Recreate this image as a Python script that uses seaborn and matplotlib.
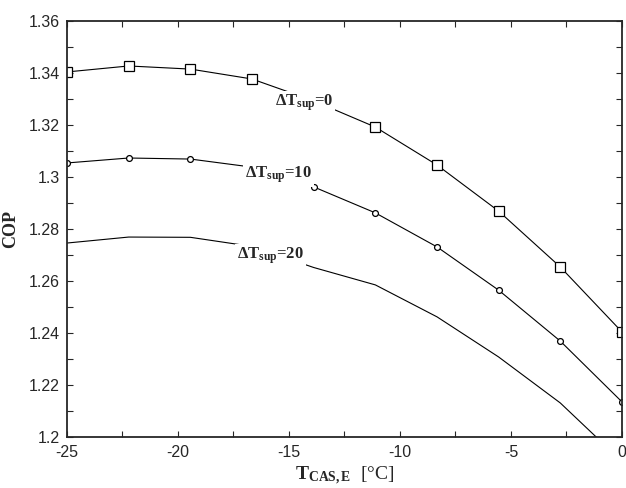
import numpy as np
import pandas as pd
import matplotlib
matplotlib.use("Agg")
import matplotlib.pyplot as plt
import seaborn as sns
from matplotlib.ticker import MultipleLocator

# evaporator temperature of the cascade cycle [°C]
t_cas_e = [-25.0, -22.22, -19.44, -16.67, -13.89, -11.11, -8.33, -5.56, -2.78, 0.0]

cop_sup0 = [1.3404, 1.3427, 1.3415, 1.3377, 1.3293, 1.3192, 1.3046, 1.2869, 1.2654, 1.2404]
cop_sup10 = [1.3054, 1.3073, 1.3069, 1.3038, 1.2962, 1.2862, 1.2731, 1.2565, 1.2369, 1.2135]
cop_sup20 = [1.2746, 1.2769, 1.2768, 1.2733, 1.2652, 1.2585, 1.2462, 1.2308, 1.2131, 1.1906]

df = pd.DataFrame({
    "T": t_cas_e * 3,
    "COP": cop_sup0 + cop_sup10 + cop_sup20,
    "sup": ["0"] * 10 + ["10"] * 10 + ["20"] * 10,
})

sns.set_style("ticks")
plt.rcParams["font.family"] = ["Liberation Sans", "DejaVu Sans"]
plt.rcParams["axes.unicode_minus"] = False
plt.rcParams["mathtext.fontset"] = "custom"
plt.rcParams["mathtext.rm"] = "Liberation Serif"
plt.rcParams["mathtext.it"] = "Liberation Serif:italic"
plt.rcParams["mathtext.bf"] = "Liberation Serif:bold"

fig = plt.figure(figsize=(6.26, 4.88), dpi=100)
ax = fig.add_axes([0.107, 0.1045, 0.8866, 0.8525])

styles = {"0": dict(marker="s", markersize=6.5), "10": dict(marker="o", markersize=4.2), "20": dict(marker=None)}
for key, st in styles.items():
    sub = df[df["sup"] == key]
    sns.lineplot(data=sub, x="T", y="COP", ax=ax, color="black", linewidth=0.8,
                 markerfacecolor="white", markeredgecolor="black", markeredgewidth=0.9,
                 zorder=2, **st)

ax.set_xlim(-25, 0)
ax.set_ylim(1.2, 1.36)
ax.xaxis.set_major_locator(MultipleLocator(5))
ax.xaxis.set_minor_locator(MultipleLocator(2.5))
ax.yaxis.set_minor_locator(MultipleLocator(0.01))
ax.set_yticks(np.arange(1.2, 1.3601, 0.02))
ax.set_yticklabels(["1.2", "1.22", "1.24", "1.26", "1.28", "1.3", "1.32", "1.34", "1.36"])
ax.tick_params(which="both", direction="in", top=True, right=True, length=4, width=0.8,
               labelsize=11.5, pad=5)
ax.tick_params(axis="x", which="both", labeltop=False, pad=6)
ax.tick_params(axis="y", which="both", labelright=False)
for sp in ax.spines.values():
    sp.set_linewidth(1.3)
    sp.set_zorder(5)

ax.set_xlabel(r"$\mathbf{T_{CAS,E}}$  [°C]", fontsize=14, family="Liberation Serif", labelpad=3)
ax.set_ylabel("COP", fontsize=13, fontweight="bold", family="Liberation Serif", labelpad=7)

box = dict(facecolor="white", edgecolor="none", pad=1.5)
label_kw = dict(fontsize=12, fontweight="bold", family="Liberation Serif", ha="left",
                va="baseline", bbox=box, zorder=3)
ax.text(-15.65, 1.3273, r"$\mathbf{\Delta T_{sup}}$=0", **label_kw)
ax.text(-16.98, 1.2996, r"$\mathbf{\Delta T_{sup}}$=10", **label_kw)
ax.text(-17.34, 1.2685, r"$\mathbf{\Delta T_{sup}}$=20", **label_kw)

fig.savefig("out.png", dpi=100)
